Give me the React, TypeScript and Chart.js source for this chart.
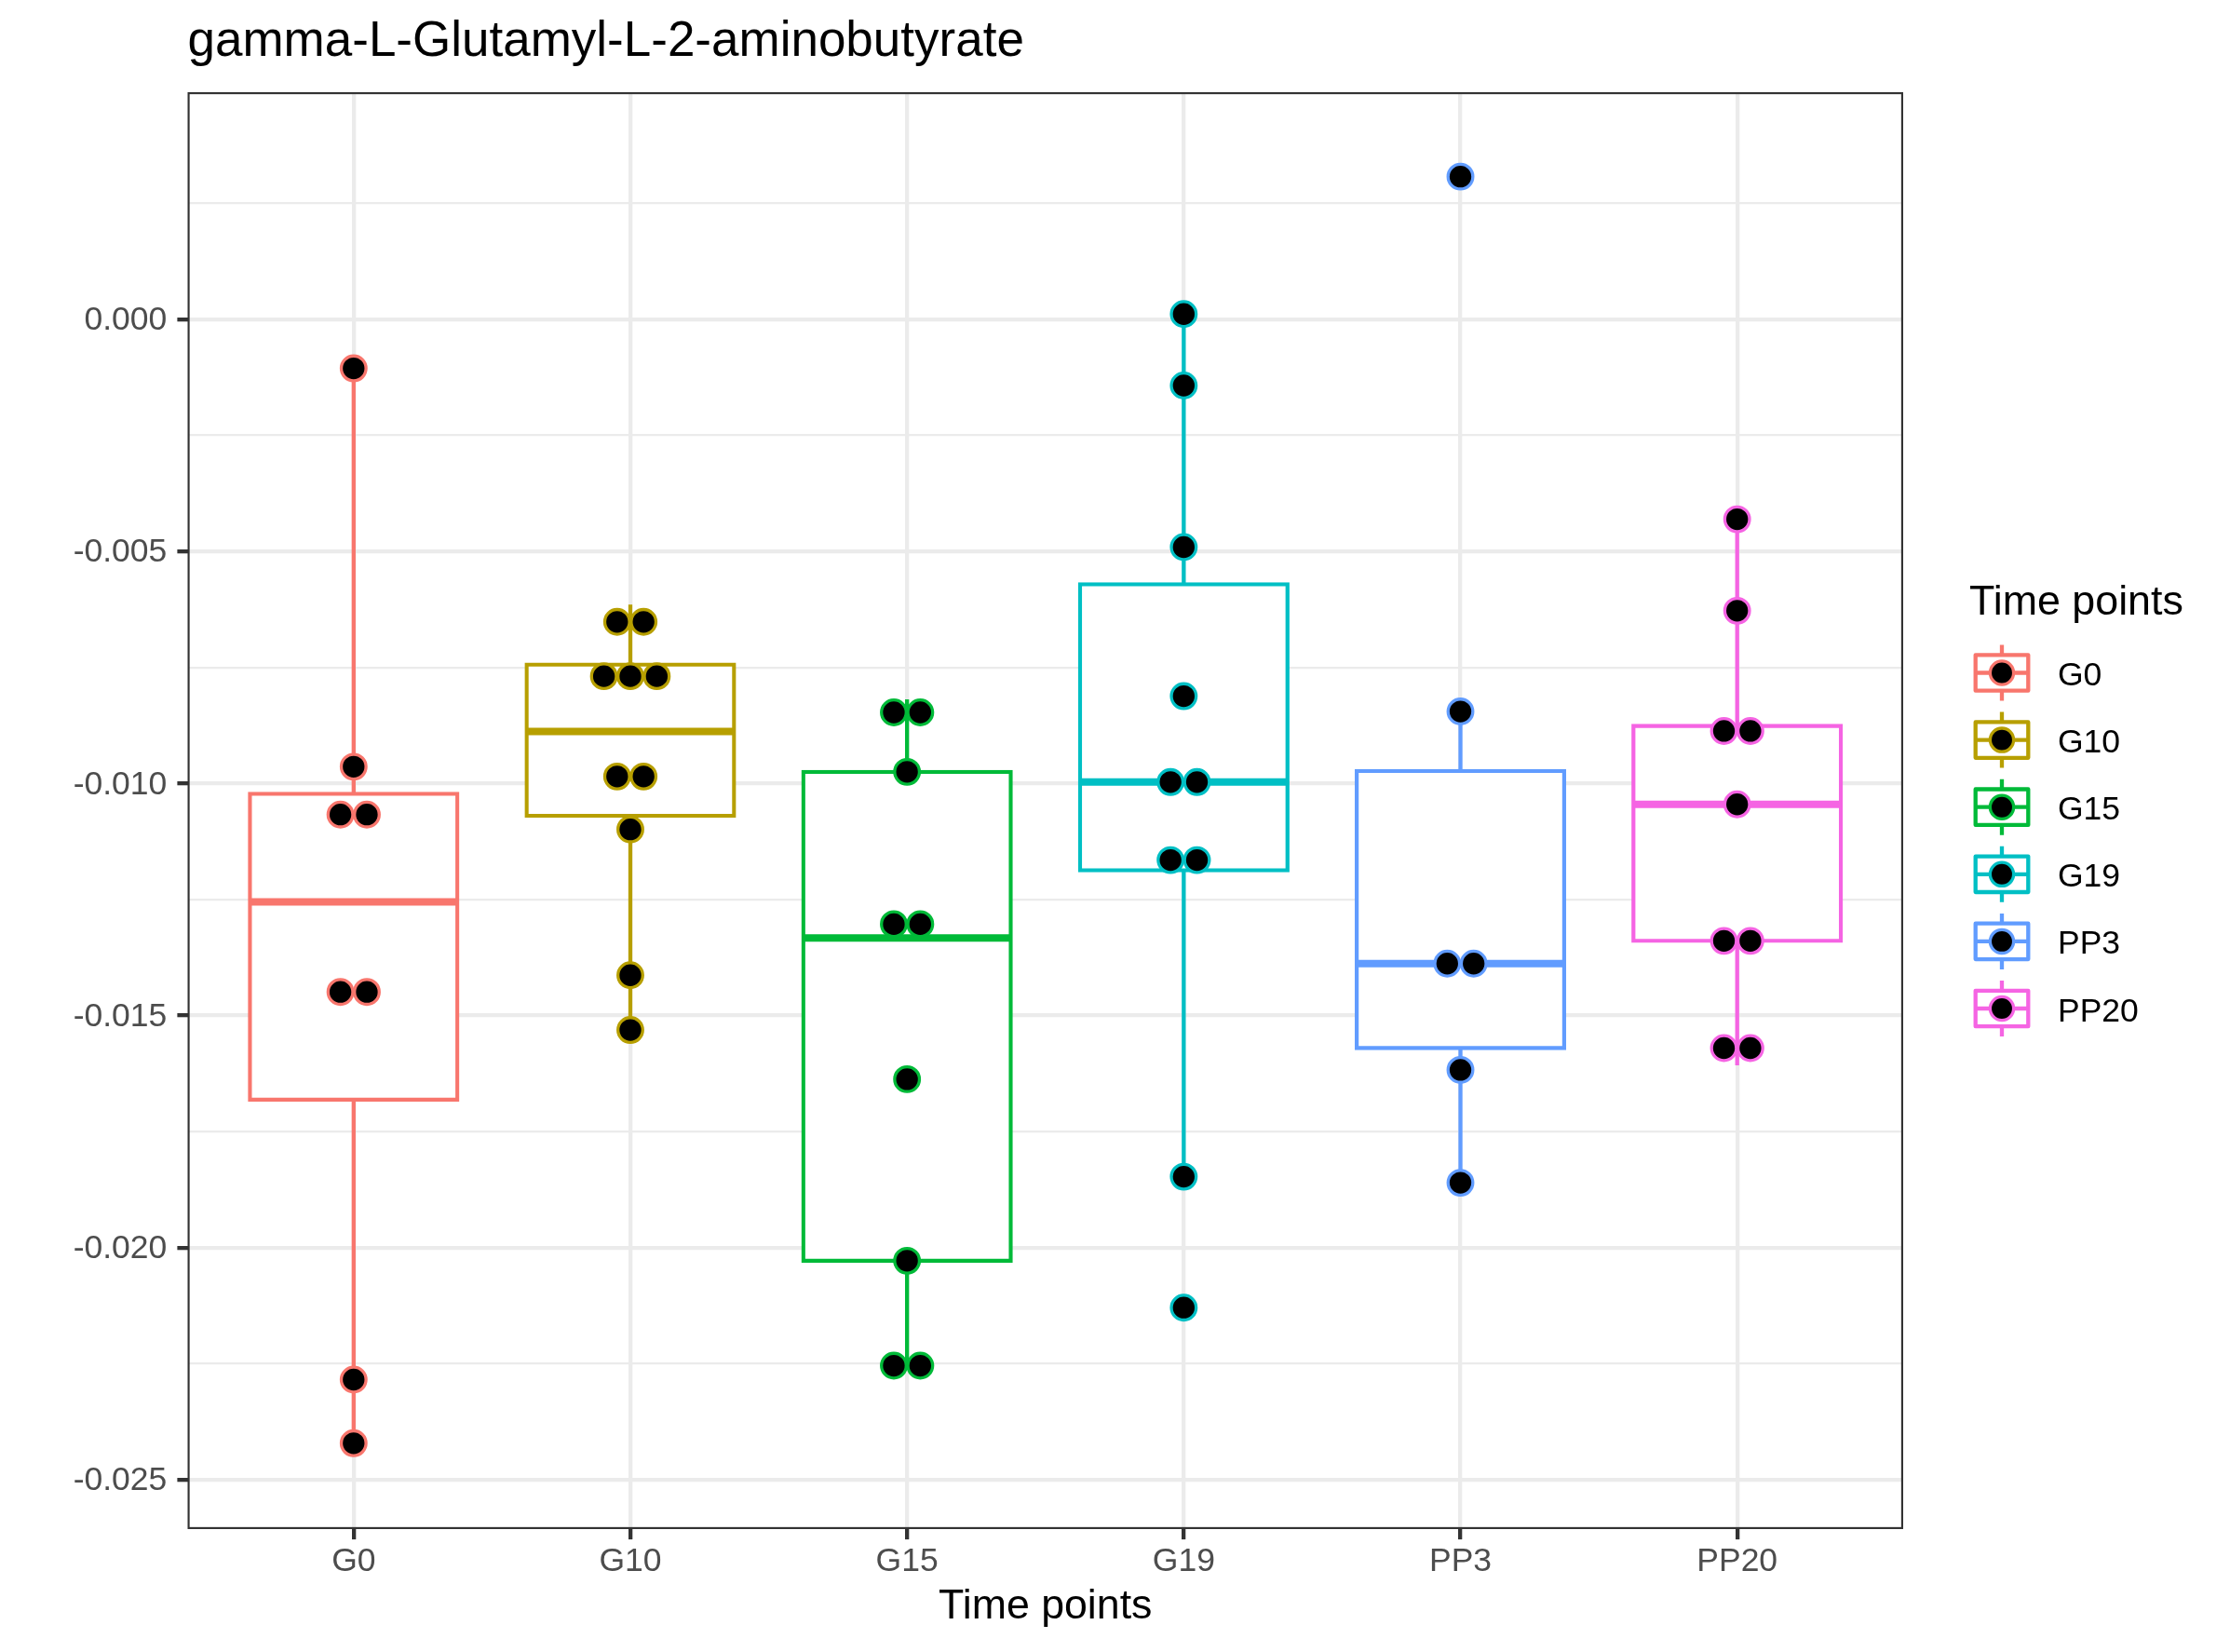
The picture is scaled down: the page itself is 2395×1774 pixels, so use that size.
import React, { useEffect, useRef } from 'react';
import { Chart, registerables } from 'chart.js';

Chart.register(...registerables);

const W = 2395;
const H = 1774;
const FONT = '"Liberation Sans", Arial, Helvetica, sans-serif';

// ---------- text ----------
const TITLE = 'gamma-L-Glutamyl-L-2-aminobutyrate';
const X_TITLE = 'Time points';
const LEGEND_TITLE = 'Time points';

// ---------- data ----------
const CATEGORIES = ['G0', 'G10', 'G15', 'G19', 'PP3', 'PP20'];
const COLORS = ['#F8766D', '#B79F00', '#00BA38', '#00BFC4', '#619CFF', '#F564E3'];

// displayed point values (per time point)
const G0_VALUES = [-0.00106, -0.00964, -0.01067, -0.01067, -0.01449, -0.01449, -0.02284, -0.02421];
const G10_VALUES = [-0.00652, -0.00652, -0.00769, -0.00769, -0.00769, -0.00985, -0.00985, -0.01099, -0.01413, -0.01531];
const G15_VALUES = [-0.00847, -0.00847, -0.00975, -0.01303, -0.01303, -0.01637, -0.02028, -0.02254, -0.02254];
const G19_VALUES = [0.00011, -0.00143, -0.00491, -0.00812, -0.00997, -0.00997, -0.01165, -0.01165, -0.01847, -0.02129];
const PP3_VALUES = [0.00307, -0.00845, -0.01388, -0.01388, -0.01617, -0.0186];
const PP20_VALUES = [-0.00431, -0.00628, -0.00887, -0.00887, -0.01045, -0.01339, -0.01339, -0.0157, -0.0157];
const POINT_VALUES = [G0_VALUES, G10_VALUES, G15_VALUES, G19_VALUES, PP3_VALUES, PP20_VALUES];

// box-plot statistics (per time point)
const WHISKER_HIGH = [-0.00106, -0.00615, -0.00819, 0.00011, -0.00845, -0.00431];
const Q3 = [-0.01022, -0.00744, -0.00975, -0.00571, -0.00973, -0.00876];
const MEDIAN = [-0.01255, -0.00888, -0.01333, -0.00997, -0.01388, -0.01045];
const Q1 = [-0.01681, -0.0107, -0.02028, -0.01187, -0.0157, -0.01339];
const WHISKER_LOW = [-0.02421, -0.01535, -0.02262, -0.01847, -0.0186, -0.01607];

// axes
const Y_MAJOR_TICKS = [0, -0.005, -0.01, -0.015, -0.02, -0.025];
const Y_MIN = -0.026059;
const Y_MAX = 0.004888;
const X_MIN = 0.4;
const X_MAX = 6.6;

// ---------- style ----------
const BOX_WIDTH = 0.75;
const DOT_STEP = 0.0955;
const LINE_W = 4.3;
const GRID_COLOR = '#EBEBEB';
const AXIS_DARK = '#333333';
const TICK_TEXT = '#4D4D4D';

function dodge(values: number[], center: number) {
  const counts = new Map<number, number>();
  values.forEach((v) => counts.set(v, (counts.get(v) || 0) + 1));
  const seen = new Map<number, number>();
  return values.map((v) => {
    const n = counts.get(v) || 1;
    const j = seen.get(v) || 0;
    seen.set(v, j + 1);
    return { x: center + (j - (n - 1) / 2) * DOT_STEP, y: v };
  });
}

const panelBorderPlugin = {
  id: 'panelBorder',
  afterDatasetsDraw(chart: any) {
    const { ctx, chartArea } = chart;
    const lw = LINE_W / 2;
    ctx.save();
    ctx.strokeStyle = AXIS_DARK;
    ctx.lineWidth = lw;
    ctx.strokeRect(
      chartArea.left + lw / 2,
      chartArea.top + lw / 2,
      chartArea.right - chartArea.left - lw,
      chartArea.bottom - chartArea.top - lw
    );
    ctx.restore();
  },
};

const legendPlugin = {
  id: 'ggLegend',
  afterDraw(chart: any) {
    const { ctx, chartArea } = chart;
    const midY = (chartArea.top + chartArea.bottom) / 2;
    const keyX = chartArea.right + 106;
    const halfW = 28.3;
    const halfH = 19.2;
    const whisk = 30;
    ctx.save();
    ctx.fillStyle = '#000000';
    ctx.textAlign = 'left';
    ctx.textBaseline = 'alphabetic';
    ctx.font = `44.8px ${FONT}`;
    ctx.fillText(LEGEND_TITLE, chartArea.right + 71, midY - 211);
    CATEGORIES.forEach((name, k) => {
      const cy = midY - 148 + k * 72.1;
      const col = COLORS[k];
      ctx.strokeStyle = col;
      ctx.lineWidth = LINE_W;
      ctx.lineJoin = 'round';
      ctx.lineCap = 'butt';
      ctx.beginPath();
      ctx.moveTo(keyX, cy - whisk);
      ctx.lineTo(keyX, cy - halfH);
      ctx.moveTo(keyX, cy + halfH);
      ctx.lineTo(keyX, cy + whisk);
      ctx.stroke();
      ctx.fillStyle = '#ffffff';
      ctx.fillRect(keyX - halfW, cy - halfH, halfW * 2, halfH * 2);
      ctx.strokeRect(keyX - halfW, cy - halfH, halfW * 2, halfH * 2);
      ctx.beginPath();
      ctx.moveTo(keyX - halfW, cy);
      ctx.lineTo(keyX + halfW, cy);
      ctx.stroke();
      ctx.beginPath();
      ctx.arc(keyX, cy, 12.6, 0, Math.PI * 2);
      ctx.fillStyle = '#000000';
      ctx.fill();
      ctx.lineWidth = 3.3;
      ctx.stroke();
      ctx.fillStyle = '#000000';
      ctx.font = `35.5px ${FONT}`;
      ctx.fillText(name, chartArea.right + 166, cy + 13.5);
    });
    ctx.restore();
  },
};

export default function App() {
  const ref = useRef<HTMLCanvasElement>(null);

  useEffect(() => {
    if (!ref.current) return;
    Chart.defaults.font.family = FONT;

    const datasets: any[] = [];

    // points (top)
    POINT_VALUES.forEach((vals, i) => {
      datasets.push({
        type: 'scatter',
        label: CATEGORIES[i],
        data: dodge(vals, i + 1),
        showLine: false,
        pointRadius: 13.3,
        pointHoverRadius: 13.3,
        pointBackgroundColor: '#000000',
        pointBorderColor: COLORS[i],
        pointBorderWidth: 3.3,
        order: 0,
      });
    });

    // medians
    CATEGORIES.forEach((_, i) => {
      datasets.push({
        type: 'scatter',
        data: [
          { x: i + 1 - BOX_WIDTH / 2, y: MEDIAN[i] },
          { x: i + 1 + BOX_WIDTH / 2, y: MEDIAN[i] },
        ],
        showLine: true,
        pointRadius: 0,
        borderColor: COLORS[i],
        borderWidth: 8,
        borderCapStyle: 'butt',
        order: 1,
      });
    });

    // boxes
    datasets.push({
      type: 'bar',
      data: CATEGORIES.map((_, i) => ({ x: i + 1, y: [Q1[i], Q3[i]] })),
      backgroundColor: '#ffffff',
      borderColor: COLORS,
      borderWidth: LINE_W,
      borderSkipped: false,
      inflateAmount: LINE_W / 2,
      categoryPercentage: BOX_WIDTH,
      barPercentage: 1,
      order: 2,
    });

    // whiskers
    CATEGORIES.forEach((_, i) => {
      datasets.push({
        type: 'scatter',
        data: [
          { x: i + 1, y: WHISKER_HIGH[i] },
          { x: i + 1, y: Q3[i] },
          { x: i + 1, y: null },
          { x: i + 1, y: Q1[i] },
          { x: i + 1, y: WHISKER_LOW[i] },
        ],
        showLine: true,
        spanGaps: false,
        pointRadius: 0,
        borderColor: COLORS[i],
        borderWidth: LINE_W,
        borderCapStyle: 'butt',
        order: 3,
      });
    });

    const half = (Y_MAJOR_TICKS[0] - Y_MAJOR_TICKS[1]) / 2;
    const minorVals = [
      ...Y_MAJOR_TICKS.map((m) => m + half),
      Y_MAJOR_TICKS[Y_MAJOR_TICKS.length - 1] - half,
    ].filter((v) => v > Y_MIN && v < Y_MAX);

    const chart = new Chart(ref.current, {
      type: 'scatter',
      data: { datasets },
      plugins: [panelBorderPlugin, legendPlugin],
      options: {
        responsive: false,
        animation: false,
        devicePixelRatio: 1,
        events: [],
        layout: { padding: { left: 0, top: 0, right: 351, bottom: 0 } },
        plugins: {
          legend: { display: false },
          tooltip: { enabled: false },
          title: {
            display: true,
            text: TITLE,
            align: 'start',
            fullSize: false,
            color: '#000000',
            font: { size: 53, weight: 'normal', family: FONT },
            padding: { top: 13.1, bottom: 22.3 },
          },
        },
        scales: {
          x: {
            type: 'linear',
            position: 'bottom',
            min: X_MIN,
            max: X_MAX,
            offset: false,
            bounds: 'data',
            afterBuildTicks: (scale: any) => {
              scale.ticks = CATEGORIES.map((_, i) => ({ value: i + 1 }));
            },
            afterFit: (scale: any) => {
              scale.height = 132;
            },
            border: { display: false },
            grid: {
              color: GRID_COLOR,
              lineWidth: LINE_W,
              offset: false,
              drawTicks: true,
              tickLength: 11.1,
              tickColor: AXIS_DARK,
              tickWidth: LINE_W,
            },
            ticks: {
              autoSkip: false,
              maxRotation: 0,
              minRotation: 0,
              padding: 2.8,
              color: TICK_TEXT,
              font: { size: 35.5, family: FONT },
              callback: (v: any) => CATEGORIES[Math.round(Number(v)) - 1] ?? '',
            },
            title: {
              display: true,
              text: X_TITLE,
              color: '#000000',
              font: { size: 44.7, family: FONT },
              padding: { top: 0, bottom: 22 },
            },
          },
          y: {
            type: 'linear',
            position: 'left',
            min: Y_MIN,
            max: Y_MAX,
            bounds: 'data',
            afterBuildTicks: (scale: any) => {
              const t = [
                ...Y_MAJOR_TICKS.map((v) => ({ value: v, minor: false })),
                ...minorVals.map((v) => ({ value: v, minor: true })),
              ];
              t.sort((a, b) => a.value - b.value);
              scale.ticks = t;
            },
            afterFit: (scale: any) => {
              scale.width = 201.5;
            },
            border: { display: false },
            grid: {
              color: GRID_COLOR,
              lineWidth: (ctx: any) => (ctx.tick && ctx.tick.minor ? LINE_W / 2 : LINE_W),
              drawTicks: true,
              tickLength: 11.1,
              tickColor: (ctx: any) => (ctx.tick && ctx.tick.minor ? 'rgba(0,0,0,0)' : AXIS_DARK),
              tickWidth: LINE_W,
            },
            ticks: {
              autoSkip: false,
              padding: 11.1,
              labelOffset: 1.5,
              color: TICK_TEXT,
              font: { size: 35.5, family: FONT },
              callback: (v: any, idx: number, ticks: any[]) => {
                if (ticks[idx] && ticks[idx].minor) return '';
                const n = Number(v);
                return Math.abs(n) < 1e-12 ? '0.000' : n.toFixed(3);
              },
            },
          },
        },
      } as any,
    } as any);

    return () => chart.destroy();
  }, []);

  return (
    <div style={{ position: 'absolute', left: 0, top: 0, width: W, height: H, background: '#ffffff' }}>
      <canvas ref={ref} width={W} height={H} style={{ display: 'block', width: W, height: H }} />
    </div>
  );
}
